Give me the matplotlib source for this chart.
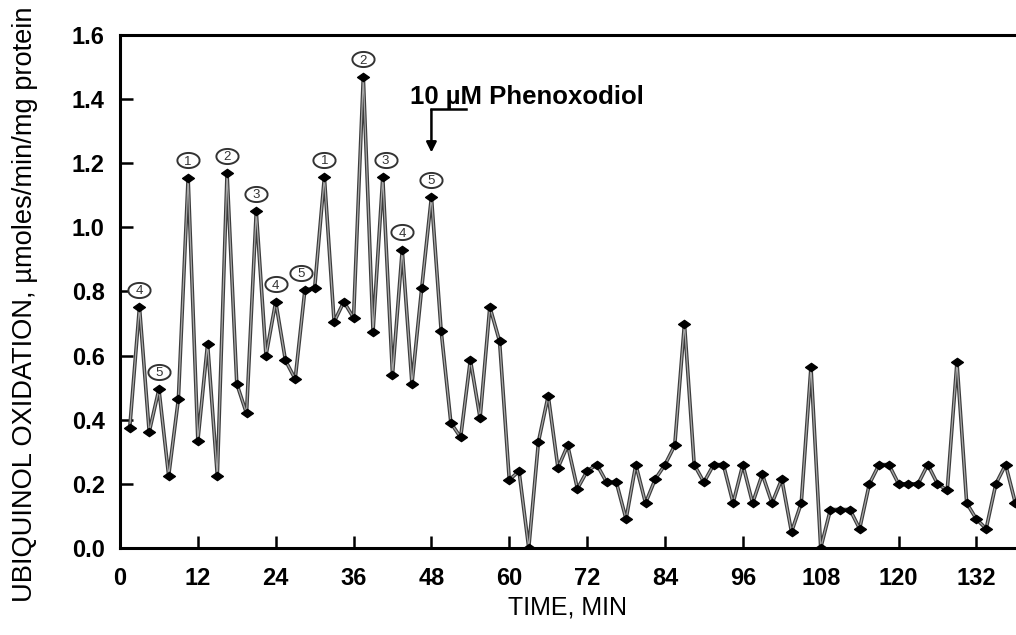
import numpy as np
import matplotlib
matplotlib.use("Agg")
import matplotlib.pyplot as plt
from matplotlib.path import Path
from matplotlib import transforms

plt.rcParams['font.family'] = ['Liberation Sans', 'DejaVu Sans']

# sampling times (min) and ubiquinol oxidation rates
times = [1.5, 3, 4.5, 6, 7.5, 9, 10.5, 12, 13.5, 15, 16.5, 18, 19.5, 21, 22.5, 24,
         25.5, 27, 28.5, 30, 31.5, 33, 34.5, 36, 37.5, 39, 40.5, 42, 43.5, 45, 46.5, 48,
         49.5, 51, 52.5, 54, 55.5, 57, 58.5, 60, 61.5, 63, 64.5, 66, 67.5, 69, 70.5, 72,
         73.5, 75, 76.5, 78, 79.5, 81, 82.5, 84, 85.5, 87, 88.5, 90, 91.5, 93, 94.5, 96,
         97.5, 99, 100.5, 102, 103.5, 105, 106.5, 108, 109.5, 111, 112.5, 114, 115.5, 117,
         118.5, 120, 121.5, 123, 124.5, 126, 127.5, 129, 130.5, 132, 133.5, 135, 136.5, 138]
rates = [0.375, 0.752, 0.362, 0.495, 0.225, 0.465, 1.155, 0.335, 0.637, 0.225, 1.17, 0.512,
         0.42, 1.05, 0.60, 0.768, 0.585, 0.527, 0.805, 0.81, 1.157, 0.705, 0.768, 0.718,
         1.47, 0.675, 1.157, 0.54, 0.93, 0.512, 0.81, 1.095, 0.677, 0.39, 0.345, 0.587,
         0.405, 0.752, 0.645, 0.212, 0.24, 0.0, 0.332, 0.475, 0.25, 0.32, 0.185, 0.24,
         0.26, 0.205, 0.205, 0.09, 0.26, 0.14, 0.215, 0.26, 0.32, 0.70, 0.26, 0.205,
         0.26, 0.26, 0.14, 0.26, 0.14, 0.23, 0.14, 0.215, 0.05, 0.14, 0.565, 0.0,
         0.12, 0.12, 0.12, 0.06, 0.20, 0.26, 0.26, 0.20, 0.20, 0.20, 0.26, 0.20,
         0.18, 0.58, 0.14, 0.09, 0.06, 0.20, 0.26, 0.14]

# circled peak labels: index into the series, label text
peak_idx = [1, 3, 6, 10, 13, 15, 18, 20, 24, 26, 28, 31]
peak_txt = ['4', '5', '1', '2', '3', '4', '5', '1', '2', '3', '4', '5']
peak_dx = [0, 0, 0, 0, 0, 0, -3, 0, 0, 2, 0, 0]   # small horizontal nudges (pt)

xticks = list(range(0, 133, 12))
yticks = [0.0, 0.2, 0.4, 0.6, 0.8, 1.0, 1.2, 1.4, 1.6]

# flat diamond and oval marker shapes
diamond = Path([(-1, 0), (0, 0.7), (1, 0), (0, -0.7), (-1, 0)],
               [Path.MOVETO, Path.LINETO, Path.LINETO, Path.LINETO, Path.CLOSEPOLY])
th = np.linspace(0, 2*np.pi, 60)
oval = Path(np.column_stack([np.cos(th), 0.68*np.sin(th)]))

fig = plt.figure(figsize=(10.16, 6.35), dpi=100)
ax = fig.add_axes([120/1016, 87/635, 1 - 120/1016, 513/635])

ax.plot(times, rates, color='#3c3c3c', lw=2.6, zorder=2)
ax.plot(times, rates, color='#a8a8a8', lw=0.9, zorder=2)
ax.plot(times, rates, ls='none', marker=diamond, ms=8.5, color='black', zorder=3)

for i, t, dx in zip(peak_idx, peak_txt, peak_dx):
    tr = transforms.offset_copy(ax.transData, fig=fig, x=dx, y=12.5, units='points')
    ax.plot([times[i]], [rates[i]], marker=oval, ms=16, mfc='white', mec='#333333',
            mew=1.4, transform=tr, zorder=4, clip_on=False)
    ax.text(times[i], rates[i], t, transform=tr, ha='center', va='center_baseline',
            fontsize=9.5, color='#333333', zorder=5)

# phenoxodiol addition marker
ax.text(44.7, 1.407, '10 \u00b5M Phenoxodiol', fontsize=18.5, fontweight='bold',
        ha='left', va='center')
ax.plot([53.4, 48], [1.37, 1.37], color='black', lw=1.8)
ax.annotate('', xy=(48, 1.225), xytext=(48, 1.375),
            arrowprops=dict(arrowstyle='-|>,head_width=0.3,head_length=0.6',
                            color='black', lw=1.8))

ax.set_xlim(0, 138.1)
ax.set_ylim(0, 1.6)
ax.set_xticks(xticks)
ax.set_yticks(yticks)
ax.set_yticklabels(['%.1f' % v for v in yticks])
ax.tick_params(direction='in', length=9, width=1.8, labelsize=17)
ax.tick_params(axis='y', pad=11)
ax.tick_params(axis='x', pad=14)
for lab in ax.get_xticklabels() + ax.get_yticklabels():
    lab.set_fontweight('bold')
for s in ['left', 'bottom', 'top']:
    ax.spines[s].set_linewidth(2.2)
ax.spines['right'].set_visible(False)

ax.set_xlabel('TIME, MIN', fontsize=18, labelpad=4)
ax.set_ylabel('UBIQUINOL OXIDATION, \u00b5moles/min/mg protein', fontsize=19.6)
ax.yaxis.set_label_coords(-0.092, 0.475)

fig.savefig('out.png', dpi=100)
